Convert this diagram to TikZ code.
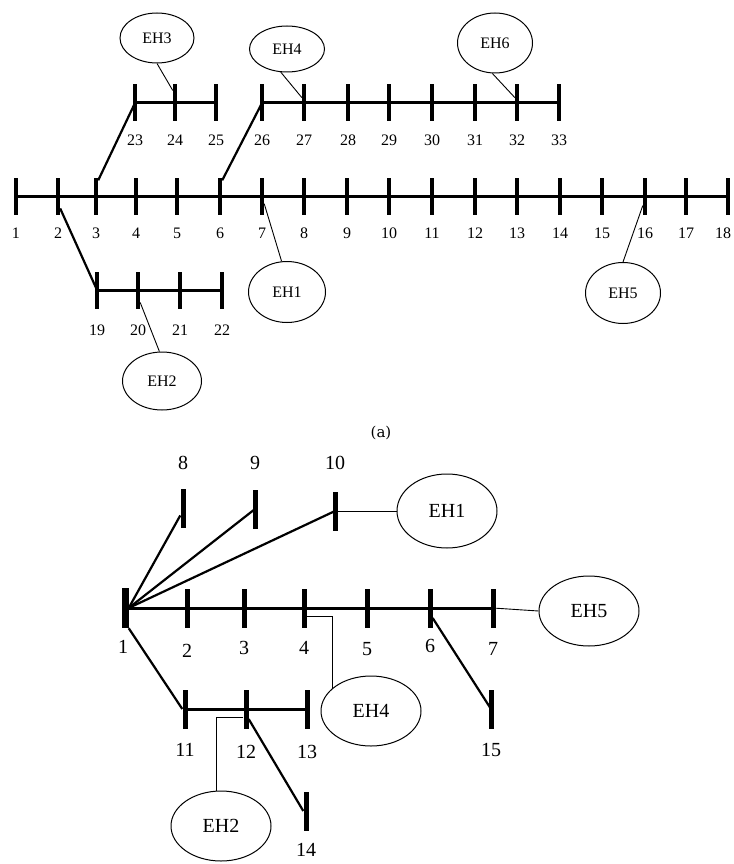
\documentclass[tikz,border=0pt]{standalone}
\usepackage{fontspec}
\setmainfont{Liberation Serif}
\newfontfamily\capfont{DejaVu Serif}
\usetikzlibrary{shapes.geometric}
\begin{document}
\begin{tikzpicture}[x=1pt,y=-1pt,
  bus/.style={fill=black,inner sep=0pt,minimum width=4pt,minimum height=37pt},
  busb/.style={fill=black,inner sep=0pt,minimum width=5pt,minimum height=39pt},
  feeder/.style={line width=3pt},
  tie/.style={line width=2.2pt},
  link/.style={line width=0.9pt},
  hub/.style={draw,ellipse,line width=1pt,inner sep=0pt},
  numa/.style={font=\fontsize{16}{16}\selectfont},
  numb/.style={font=\fontsize{20}{20}\selectfont}]
  \useasboundingbox (0,0) rectangle (733,864);
  % (a) 33-bus system
  \foreach \i/\x in {1/16,2/58,3/96,4/136,5/177,6/220,7/262,8/304,9/347,10/389,
      11/432,12/475,13/517,14/560,15/602,16/645,17/686,18/728} {
    \node[bus] (a\i) at (\x,196) {};
  }
  \foreach \i/\x in {1/16,2/58,3/96,4/136,5/177,6/220,7/262,8/304,9/347,10/389,
      11/432,12/475,13/517,14/560,15/602,16/645,17/686,18/723} {
    \node[numa] (na\i) at (\x,233) {\i};
  }
  \foreach \i/\x in {23/135,24/175,25/216,26/262,27/304,28/348,29/389,30/432,
      31/475,32/517,33/559} {
    \node[bus] (a\i) at (\x,103) {};
    \node[numa] (na\i) at (\x,140) {\i};
  }
  \foreach \i/\x in {19/97,20/138,21/180,22/222} {
    \node[bus] (a\i) at (\x,290) {};
    \node[numa] (na\i) at (\x,330) {\i};
  }
  \draw[feeder] (a1.center) -- (a18.center);
  \draw[feeder] (a23.center) -- (a25.center);
  \draw[feeder] (a26.center) -- (a33.center);
  \draw[feeder] (a19.center) -- (a22.center);
  \draw[tie] (a3.82) -- (a23.center);
  \draw[tie] (a6.82) -- (a26.center);
  \draw[tie] (a2.-80) -- (a19.center);
  \node[hub,numa,minimum width=74pt,minimum height=50pt] (eh3) at (157,38) {EH3};
  \node[hub,numa,minimum width=75pt,minimum height=46pt] (eh4) at (287,49) {EH4};
  \node[hub,numa,minimum width=75pt,minimum height=60pt] (eh6) at (495,43) {EH6};
  \node[hub,numa,minimum width=77pt,minimum height=61pt] (eh1) at (287,292) {EH1};
  \node[hub,numa,minimum width=79pt,minimum height=58pt] (eh2) at (162,381) {EH2};
  \node[hub,numa,minimum width=75pt,minimum height=61pt] (eh5) at (623,293) {EH5};
  \draw[link] (eh3.south) -- (a24.100);
  \draw[link] (eh4.255) -- (a27.112);
  \draw[link] (eh6.265) -- (a32.112);
  \draw[link] (a7.-74) -- (eh1.100);
  \draw[link] (a20.-80) -- (eh2.95);
  \draw[link] (a16.-103) -- (eh5.north);
  \node[font=\capfont\fontsize{15}{15}\selectfont] (capa) at (381,433) {(a)};
  % (b) 15-bus system
  \foreach \i/\x/\y/\ly in {2/187/608/651,3/244/608/648,4/304/608/648,5/367/608/649,
      6/430/608/646,7/493/608/649,11/185/709/750,12/246/709/752,13/307/709/752,
      14/306/811/850,15/491/709/750} {
    \node[busb] (b\i) at (\x,\y) {};
    \node[numb] (nb\i) at (\x,\ly) {\i};
  }
  \foreach \i/\x/\y in {8/183/508,9/255/509,10/335/511} {
    \node[busb] (b\i) at (\x,\y) {};
    \node[numb] (nb\i) at (\x,463) {\i};
  }
  \node[busb,minimum width=7pt,minimum height=40pt] (b1) at (125,608) {};
  \node[numb] (nb1) at (123,647) {1};
  \draw[feeder] (b1.center) -- (b7.center);
  \draw[feeder] (b11.center) -- (b13.center);
  \draw[tie] (b1.east) -- (b8.250);
  \draw[tie] (b1.east) -- (b9.center);
  \draw[tie] (b1.east) -- (b10.center);
  \draw[tie] (b1.south east) -- (b11.west);
  \draw[tie] (b6.-75) -- (b15.center);
  \draw[tie] (b12.-75) -- (b14.west);
  \node[hub,numb,minimum width=100pt,minimum height=74pt] (hb1) at (447,511) {EH1};
  \node[hub,numb,minimum width=100pt,minimum height=70pt] (hb5) at (589,611) {EH5};
  \node[hub,numb,minimum width=100pt,minimum height=70pt] (hb4) at (371,711) {EH4};
  \node[hub,numb,minimum width=100pt,minimum height=70pt] (hb2) at (221,826) {EH2};
  \draw[link] (b10.center) -- (hb1.west);
  \draw[link] (b7.center) -- (hb5.west);
  \draw[link] (b4.-73) -| (hb4.150);
  \draw[link] (b12.253) -| (hb2.97);
\end{tikzpicture}
\end{document}
